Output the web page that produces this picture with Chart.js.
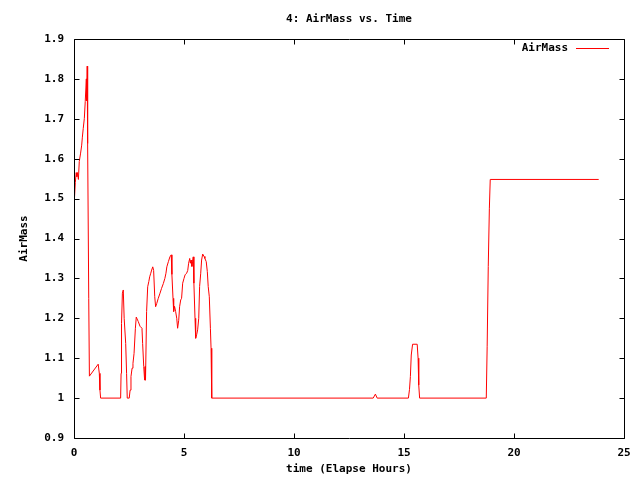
<!DOCTYPE html>
<html>
<head>
<meta charset="utf-8">
<script src="https://cdn.jsdelivr.net/npm/chart.js@4/dist/chart.umd.min.js"></script>
<style>
  html, body { margin: 0; padding: 0; background: #fff; }
  #chart { display: block; }
</style>
</head>
<body>
<canvas id="chart" width="640" height="480"></canvas>
<script>
// elapsed time (hours) and air mass
const hours = [
  0.00, 0.06, 0.10, 0.13, 0.16, 0.20, 0.24, 0.30, 0.35, 0.38, 0.42, 0.47, 0.51, 0.56, 0.58, 0.60,
  0.62, 0.67, 0.70, 1.10, 1.15, 1.18, 1.21, 2.12, 2.14, 2.16, 2.20, 2.24, 2.28, 2.35, 2.39, 2.42,
  2.51, 2.55, 2.59, 2.64, 2.68, 2.73, 2.79, 2.83, 2.92, 3.00, 3.09, 3.12, 3.17, 3.21, 3.23, 3.25,
  3.30, 3.35, 3.40, 3.44, 3.49, 3.53, 3.58, 3.62, 3.67, 3.71, 3.76, 3.83, 3.91, 3.98, 4.06, 4.13,
  4.18, 4.22, 4.29, 4.36, 4.42, 4.45, 4.50, 4.53, 4.57, 4.62, 4.67, 4.71, 4.76, 4.80, 4.85, 4.89,
  4.94, 5.00, 5.05, 5.12, 5.17, 5.21, 5.26, 5.29, 5.32, 5.36, 5.39, 5.42, 5.45, 5.50, 5.53, 5.58,
  5.62, 5.67, 5.71, 5.76, 5.80, 5.85, 5.91, 5.95, 6.01, 6.06, 6.10, 6.15, 6.20, 6.23, 6.26, 13.60,
  13.70, 13.78, 15.20, 15.25, 15.29, 15.33, 15.39, 15.60, 15.64, 15.67, 15.71, 18.74, 18.78, 18.83,
  18.88, 18.92, 23.85
];
const airMass = [
  1.48, 1.54, 1.565, 1.555, 1.565, 1.548, 1.593, 1.614, 1.634, 1.654, 1.676, 1.701, 1.743, 1.80, 1.745, 1.832,
  1.638, 1.25, 1.055, 1.085, 1.062, 1.02, 1.0, 1.0, 1.062, 1.187, 1.263, 1.271, 1.2, 1.137, 1.062, 1.0,
  1.0, 1.02, 1.054, 1.075, 1.087, 1.112, 1.175, 1.203, 1.192, 1.18, 1.175, 1.137, 1.079, 1.045, 1.079, 1.045,
  1.217, 1.279, 1.292, 1.304, 1.313, 1.321, 1.329, 1.32, 1.254, 1.229, 1.237, 1.25, 1.263, 1.275, 1.287, 1.3,
  1.313, 1.329, 1.342, 1.354, 1.359, 1.31, 1.25, 1.217, 1.23, 1.217, 1.2, 1.175, 1.195, 1.229, 1.246, 1.25,
  1.288, 1.3, 1.309, 1.313, 1.32, 1.338, 1.35, 1.338, 1.346, 1.33, 1.342, 1.354, 1.288, 1.2, 1.15, 1.16,
  1.171, 1.2, 1.28, 1.313, 1.346, 1.361, 1.355, 1.35, 1.342, 1.317, 1.28, 1.254, 1.175, 1.125, 1.0, 1.0,
  1.01, 1.0, 1.0, 1.022, 1.054, 1.108, 1.135, 1.135, 1.1, 1.033, 1.0, 1.0, 1.13, 1.33,
  1.476, 1.548, 1.548
];

const xTicks = [0, 5, 10, 15, 20, 25];
const yTicks = [0.9, 1.0, 1.1, 1.2, 1.3, 1.4, 1.5, 1.6, 1.7, 1.8, 1.9];

const fontFamily = "'DejaVu Sans Mono', monospace";
Chart.defaults.font.family = fontFamily;
Chart.defaults.font.size = 11;
Chart.defaults.font.weight = "bold";
Chart.defaults.color = "#000";

// gnuplot-like frame: border, inward ticks on all four sides, key in the corner
const gnuFrame = {
  id: "gnuFrame",
  afterDraw(chart) {
    const ctx = chart.ctx;
    const area = chart.chartArea;
    const l = Math.round(area.left) + 0.5;
    const r = Math.round(area.right) + 0.5;
    const t = Math.round(area.top) + 0.5;
    const b = Math.round(area.bottom) + 0.5;
    const len = 5;
    ctx.save();
    ctx.strokeStyle = "#000";
    ctx.lineWidth = 1;
    ctx.beginPath();
    ctx.rect(l, t, r - l, b - t);
    chart.scales.x.ticks.forEach((tk) => {
      const px = Math.round(chart.scales.x.getPixelForValue(tk.value)) + 0.5;
      ctx.moveTo(px, b); ctx.lineTo(px, b - len);
      ctx.moveTo(px, t); ctx.lineTo(px, t + len);
    });
    chart.scales.y.ticks.forEach((tk) => {
      const py = Math.round(chart.scales.y.getPixelForValue(tk.value)) + 0.5;
      ctx.moveTo(l, py); ctx.lineTo(l + len, py);
      ctx.moveTo(r, py); ctx.lineTo(r - len, py);
    });
    ctx.stroke();

    // key
    const ds = chart.data.datasets[0];
    ctx.font = "bold 11px " + fontFamily;
    ctx.fillStyle = "#000";
    ctx.textAlign = "right";
    ctx.textBaseline = "middle";
    ctx.fillText(ds.label, 568, 48);
    ctx.strokeStyle = ds.borderColor;
    ctx.beginPath();
    ctx.moveTo(576, 48.5);
    ctx.lineTo(609, 48.5);
    ctx.stroke();
    ctx.restore();
  },
};

new Chart(document.getElementById("chart").getContext("2d"), {
  type: "line",
  data: {
    datasets: [
      {
        label: "AirMass",
        data: hours.map((h, i) => ({ x: h, y: airMass[i] })),
        borderColor: "#ff0000",
        borderWidth: 1,
        pointRadius: 0,
        tension: 0,
        fill: false,
      },
    ],
  },
  options: {
    responsive: false,
    animation: false,
    layout: { padding: { top: 0, right: 16, bottom: 0, left: 0 } },
    plugins: {
      legend: { display: false },
      tooltip: { enabled: false },
      title: {
        display: true,
        text: "4: AirMass vs. Time",
        fullSize: false,
        color: "#000",
        font: { size: 11, weight: "bold" },
        padding: { top: 13, bottom: 12.8 },
      },
    },
    scales: {
      x: {
        type: "linear",
        min: 0,
        max: 25,
        afterBuildTicks: (s) => { s.ticks = xTicks.map((v) => ({ value: v })); },
        afterFit: (s) => { s.height = 42; },
        grid: { display: false, drawTicks: false },
        border: { display: false },
        ticks: { padding: 9, maxRotation: 0 },
        title: { display: true, text: "time (Elapse Hours)", padding: { top: 0, bottom: 4 } },
      },
      y: {
        min: 0.9,
        max: 1.9,
        afterBuildTicks: (s) => { s.ticks = yTicks.map((v) => ({ value: v })); },
        afterFit: (s) => { s.width = 74; },
        grid: { display: false, drawTicks: false },
        border: { display: false },
        ticks: { padding: 10, callback: (v) => String(+v.toFixed(1)) },
        title: { display: true, text: "AirMass", padding: { top: 18, bottom: 0 } },
      },
    },
  },
  plugins: [gnuFrame],
});
</script>
</body>
</html>
